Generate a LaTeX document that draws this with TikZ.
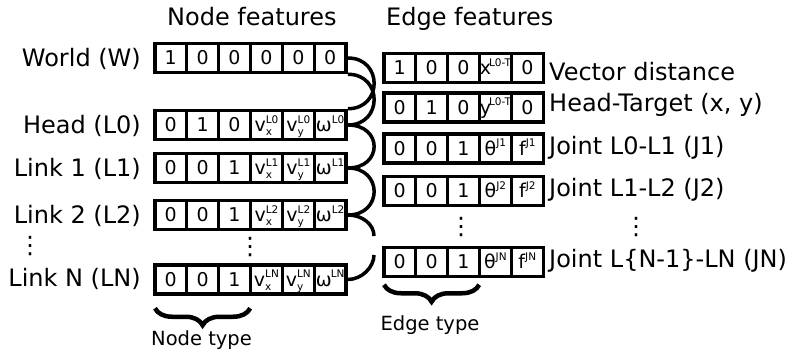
\documentclass[tikz,border=0pt]{standalone}
\usepackage{fontspec}
\setmainfont{DejaVu Sans}
\usetikzlibrary{decorations.pathreplacing}

% feature symbol with a superscript tag and an optional subscript
\newcommand\feat[3]{#1\rlap{\raisebox{-4pt}{\fontsize{10.5}{10.5}\selectfont #3}}\raisebox{8.5pt}{\fontsize{10.5}{10.5}\selectfont #2}}
% one row of feature cells: name, x of first cell centre, y of row centre, entries
\newcommand\cellrow[4]{%
  \foreach \c [count=\i] in {#4} {\node[cell] (#1-\i) at ({#2+(\i-1)*31.9}, #3) {\c};}}

\begin{document}
\begin{tikzpicture}[x=1pt,y=-1pt,
  cell/.style={draw, line width=3.5pt, minimum width=31.9pt, minimum height=29pt,
    inner sep=0pt, text height=13.85pt, text depth=0pt, font=\fontsize{19}{19}\selectfont},
  lab/.style={font=\fontsize{24}{24}\selectfont, inner sep=0pt},
  small/.style={font=\fontsize{19.5}{20}\selectfont, inner sep=0pt},
  link/.style={line width=3.5pt},
  bracket/.style={line width=4.5pt, decorate, decoration={brace, amplitude=17pt}},
  ]
\useasboundingbox (0,0) rectangle (791,352);

% headings
\node[lab, anchor=base west] (hn) at (167,25.7) {Node features};
\node[lab, anchor=base west] (he) at (386,25.7) {Edge features};

% node feature rows
\cellrow{W}{170.7}{58}{1,0,0,0,0,0}
\cellrow{H}{170.7}{125}{0,1,0,\feat{v}{L0}{x},\feat{v}{L0}{y},\feat{ω}{L0}{}}
\cellrow{La}{170.7}{168}{0,0,1,\feat{v}{L1}{x},\feat{v}{L1}{y},\feat{ω}{L1}{}}
\cellrow{Lb}{170.7}{215}{0,0,1,\feat{v}{L2}{x},\feat{v}{L2}{y},\feat{ω}{L2}{}}
\cellrow{Ln}{170.7}{279.5}{0,0,1,\feat{v}{LN}{x},\feat{v}{LN}{y},\feat{ω\kern-1pt}{LN}{}}

% edge feature rows
\cellrow{VD}{399.7}{68}{1,0,0,\feat{x\kern-2pt}{L0-T}{},0}
\cellrow{HT}{399.7}{107.5}{0,1,0,\feat{y\kern-2pt}{L0-T}{},0}
\cellrow{JA}{399.7}{148.5}{0,0,1,\feat{θ}{J1}{},\feat{f}{J1}{}}
\cellrow{JB}{399.7}{191}{0,0,1,\feat{θ}{J2}{},\feat{f}{J2}{}}
\cellrow{JN}{399.7}{262}{0,0,1,\feat{θ}{JN}{},\feat{f}{JN}{}}

% node names
\node[lab, anchor=base east] (lw) at (141,66.6) {World (W)};
\node[lab, anchor=base east] (lh) at (141,133.6) {Head (L0)};
\node[lab, anchor=base east] (l1) at (141,176.6) {Link 1 (L1)};
\node[lab, anchor=base east] (l2) at (141,223.6) {Link 2 (L2)};
\node[lab, anchor=base east] (ln) at (141,287) {Link N (LN)};

% edge names
\node[lab, anchor=base west] (evd) at (549,81) {Vector distance};
\node[lab, anchor=base west] (eht) at (549,112) {Head-Target (x, y)};
\node[lab, anchor=base west] (ej1) at (549,155) {Joint L0-L1 (J1)};
\node[lab, anchor=base west] (ej2) at (549,197) {Joint L1-L2 (J2)};
\node[lab, anchor=base west] (ejn) at (549,268) {Joint L\{N-1\}-LN (JN)};

% vertical ellipses
\node[lab] (d1) at (30,246) {⋮};
\node[lab] (d2) at (250,247.5) {⋮};
\node[lab] (d3) at (461,227) {⋮};
\node[lab] (d4) at (636,227.5) {⋮};

% edges joining the node rows
\draw[link] (W-6.east) .. controls +(35,0) and +(35,0) .. (H-6.north east);
\draw[link] (W-6.south east) .. controls +(35,0) and +(35,0) .. (H-6.east);
\draw[link] (H-6.east) .. controls +(35,0) and +(35,0) .. (La-6.east);
\draw[link] (La-6.east) .. controls +(35,0) and +(35,0) .. (Lb-6.east);
\coordinate (gapTop) at (374,236);
\coordinate (gapBot) at (374,255);
\draw[link] (Lb-6.east) .. controls +(14,0) and +(0,-12) .. (gapTop);
\draw[link] (gapBot) .. controls +(0,12) and +(14,0) .. (Ln-6.east);

% type braces
\path (Ln-3.south east) ++(-2,12.5) coordinate (nb1);
\path (Ln-1.south west) ++(2,12.5) coordinate (nb2);
\path (JN-3.south east) ++(-2,6.5) coordinate (eb1);
\path (JN-1.south west) ++(2,6.5) coordinate (eb2);
\draw[bracket] (nb1) -- (nb2);
\draw[bracket] (eb1) -- (eb2);
\node[small, anchor=base] (nt) at (201.5,345) {Node type};
\node[small, anchor=base] (et) at (430,330) {Edge type};
\end{tikzpicture}
\end{document}
